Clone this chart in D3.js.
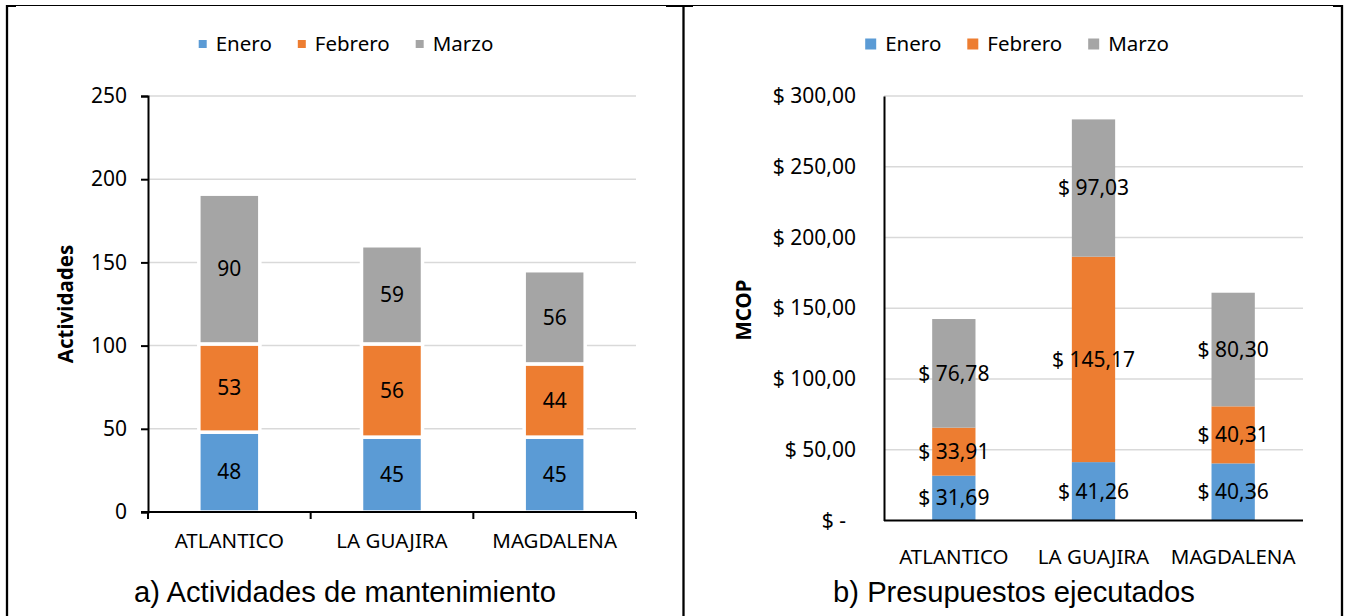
<!DOCTYPE html>
<html><head><meta charset="utf-8">
<script src="https://cdn.jsdelivr.net/npm/d3@7"></script>
<style>
html,body{margin:0;padding:0;background:#fff;}
svg{display:block;}
text{font-family:"Noto Sans","Open Sans",sans-serif;fill:#000;}
text.cap{font-family:"Liberation Sans",Arial,sans-serif;}
</style></head>
<body>
<svg id="c" width="1347" height="616"></svg>
<script>
// ---- data ----
const categories = ["ATLANTICO", "LA GUAJIRA", "MAGDALENA"];
const seriesNames = ["Enero", "Febrero", "Marzo"];
const seriesColors = ["#5b9bd5", "#ed7d31", "#a5a5a5"];
// a) Actividades de mantenimiento
const actEnero = [48, 45, 45];
const actFebrero = [53, 56, 44];
const actMarzo = [90, 59, 56];
const actTicks = [0, 50, 100, 150, 200, 250];
// b) Presupuestos ejecutados (MCOP)
const preEnero = [31.69, 41.26, 40.36];
const preFebrero = [33.91, 145.17, 40.31];
const preMarzo = [76.78, 97.03, 80.30];
const preTicks = [0, 50, 100, 150, 200, 250, 300];

const svg = d3.select("#c");

// ---- frame ----
const frame = svg.append("g");
frame.append("line").attr("x1",6).attr("x2",1343).attr("y1",5.5).attr("y2",5.5).attr("stroke","#000").attr("stroke-width",1);
[[6,16],[666,693],[1333,1343]].forEach(s=>{
  frame.append("line").attr("x1",s[0]).attr("x2",s[1]).attr("y1",6).attr("y2",6).attr("stroke","#000").attr("stroke-width",2);
});
[7,683.5,1342].forEach(x=>{
  frame.append("line").attr("x1",x).attr("x2",x).attr("y1",5).attr("y2",616).attr("stroke","#000").attr("stroke-width",2.3);
});

function fmtMoney(v){ return "$ " + v.toFixed(2).replace(".", ","); }

function legend(g, cx, cy, sq){
  const items = g.append("g");
  let x = 0;
  const gap = 26;
  seriesNames.forEach((n,i)=>{
    const it = items.append("g").attr("transform",`translate(${x},0)`);
    it.append("rect").attr("x",0).attr("y",cy - sq/2).attr("width",sq).attr("height",sq).attr("fill",seriesColors[i]);
    const t = it.append("text").attr("x",sq+9).attr("y",cy).attr("dy","0.35em").attr("font-size",20.5).text(n);
    x += sq + 9 + t.node().getComputedTextLength() + gap;
  });
  const w = x - gap;
  items.attr("transform",`translate(${cx - w/2},0)`);
}

function chart(opts){
  const g = svg.append("g");
  const stack = d3.stack().keys([0,1,2])(opts.cats.map((c,i)=>({0:opts.series[0][i],1:opts.series[1][i],2:opts.series[2][i],cat:c})));
  const x = d3.scaleBand().domain(opts.cats).range([opts.x0, opts.x1]).padding(0);
  const y = d3.scaleLinear().domain([0, opts.ymax]).range([opts.yb, opts.yt]);
  // gridlines
  g.append("g").selectAll("line").data(opts.ticks.filter(t=>t>0)).join("line")
    .attr("x1",opts.x0).attr("x2",opts.x1).attr("y1",d=>y(d)).attr("y2",d=>y(d))
    .attr("stroke","#d9d9d9").attr("stroke-width",1.5);
  // bars
  const bw = x.bandwidth()*opts.barFrac;
  stack.forEach((layer,si)=>{
    g.append("g").selectAll("rect").data(layer).join("rect")
      .attr("x",d=>x(d.data.cat)+x.bandwidth()/2-bw/2)
      .attr("width",bw)
      .attr("y",d=>y(d[1])).attr("height",d=>y(d[0])-y(d[1]))
      .attr("fill",seriesColors[si])
      .attr("stroke",opts.sep ? "#fff":"none").attr("stroke-width",opts.sep?3.5:0);
  });
  // labels
  stack.forEach((layer,si)=>{
    g.append("g").selectAll("text").data(layer).join("text")
      .attr("x",d=>x(d.data.cat)+x.bandwidth()/2)
      .attr("y",d=>y((d[0]+d[1])/2)).attr("dy","0.35em")
      .attr("text-anchor","middle").attr("font-size",21)
      .text(d=>opts.labelFmt(d[1]-d[0]));
  });
  // y axis
  const ya = d3.axisLeft(y).tickValues(opts.ticks).tickSize(opts.yTick).tickPadding(opts.yPad).tickFormat(opts.tickFmt);
  const yg = g.append("g").attr("transform",`translate(${opts.x0},0)`).call(ya);
  yg.select(".domain").attr("stroke","#000").attr("stroke-width",2);
  yg.selectAll(".tick line").attr("stroke","#000").attr("stroke-width",2);
  yg.selectAll(".tick text").attr("font-size",21).attr("font-family",null).attr("fill","#000");
  if(opts.zeroShift) yg.selectAll(".tick text").filter(d=>d===0).attr("dx",-opts.zeroShift);
  // x axis
  const xa = d3.axisBottom(x).tickSize(0).tickPadding(opts.xPad);
  const xg = g.append("g").attr("transform",`translate(0,${opts.yb})`).call(xa);
  xg.select(".domain").remove();
  xg.append("line").attr("x1",opts.x0 - (opts.yTick||0)).attr("x2",opts.x1).attr("y1",0).attr("y2",0).attr("stroke","#000").attr("stroke-width",2);
  if(opts.xTicks){
    xg.append("g").selectAll("line").data(d3.range(opts.cats.length+1)).join("line")
      .attr("x1",i=>opts.x0+i*x.step()).attr("x2",i=>opts.x0+i*x.step())
      .attr("y1",0).attr("y2",7).attr("stroke","#000").attr("stroke-width",2);
  }
  xg.selectAll(".tick text").attr("font-size",20.5).attr("font-family",null).attr("fill","#000");
  // axis title
  g.append("text").attr("transform",`translate(${opts.titleX},${opts.titleY}) rotate(-90)`)
    .attr("text-anchor","middle").attr("dy","0.35em").attr("font-weight","bold").attr("font-size",20.5).text(opts.title);
  legend(g, opts.legendCx, 44, opts.sq);
  // caption
  g.append("text").attr("class","cap").attr("x",opts.capX).attr("y",602).attr("text-anchor","middle")
    .attr("font-size",29.2).text(opts.caption);
}

chart({cats:categories, series:[actEnero,actFebrero,actMarzo], ticks:actTicks, ymax:250,
  x0:148, x1:636, yb:512, yt:96, barFrac:0.375, sep:true,
  labelFmt:v=>d3.format("d")(v), tickFmt:d3.format("d"), yTick:7, yPad:14, xPad:21, xTicks:true,
  title:"Actividades", titleX:66, titleY:304, legendCx:346, sq:8,
  caption:"a) Actividades de mantenimiento", capX:345});

chart({cats:categories, series:[preEnero,preFebrero,preMarzo], ticks:preTicks, ymax:300,
  x0:884, x1:1303, yb:520.5, yt:96, barFrac:0.31, sep:false,
  labelFmt:v=>fmtMoney(v), tickFmt:v=>v===0?"$ -":fmtMoney(v), yTick:0, yPad:28, zeroShift:10, xPad:29, xTicks:false,
  title:"MCOP", titleX:744, titleY:310, legendCx:1017, sq:11,
  caption:"b) Presupuestos ejecutados", capX:1014});
</script>
</body></html>
